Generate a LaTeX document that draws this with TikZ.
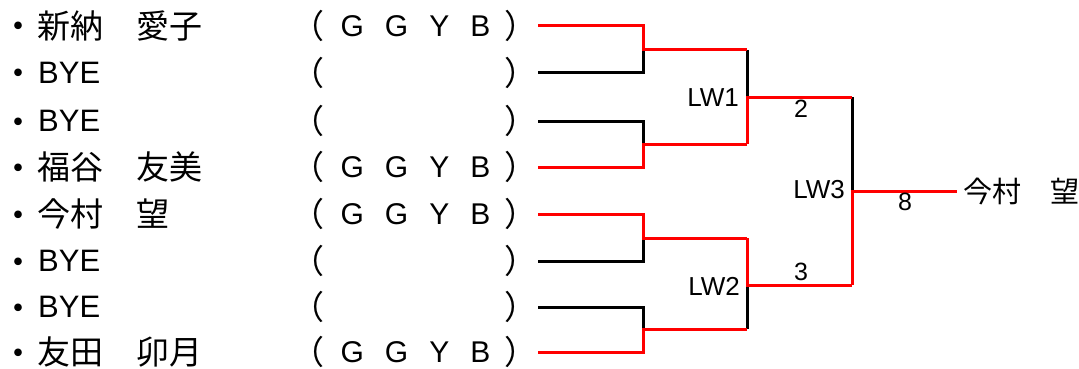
\documentclass[tikz,border=0pt]{standalone}
\usepackage{fontspec}
\setmainfont{Liberation Sans}
\newfontfamily\jp{Noto Sans CJK JP}
\newcommand\gradegap{\hspace{21pt}}
\begin{document}
\begin{tikzpicture}[x=1pt, y=-1pt,
    win/.style={draw=red, line width=3pt},
    lose/.style={draw=black, line width=3pt},
    dot/.style={anchor=base, inner sep=0pt, font=\jp\fontsize{36}{36}\selectfont},
    player/.style={anchor=west, inner sep=0pt, font=\jp\fontsize{33}{33}\selectfont},
    bye/.style={anchor=west, inner sep=0pt, font=\fontsize{31}{31}\selectfont},
    paren/.style={inner sep=0pt, font=\jp\fontsize{33}{33}\selectfont},
    grade/.style={inner sep=0pt, font=\fontsize{30}{30}\selectfont},
    round/.style={anchor=east, inner sep=0pt, font=\fontsize{26}{26}\selectfont},
    score/.style={inner sep=0pt, font=\fontsize{25}{25}\selectfont}]
\useasboundingbox (0,0) rectangle (1079,369);

% entries
\node [dot] (b1) at (18, 40) {・};
\node [dot] (b2) at (18, 87) {・};
\node [dot] (b3) at (18, 135) {・};
\node [dot] (b4) at (18, 181) {・};
\node [dot] (b5) at (18, 228) {・};
\node [dot] (b6) at (18, 275) {・};
\node [dot] (b7) at (18, 321) {・};
\node [dot] (b8) at (18, 366) {・};

\node [player] (n1) at (37, 26) {新納　愛子};
\node [bye] (n2) at (38, 73) {BYE};
\node [bye] (n3) at (38, 121) {BYE};
\node [player] (n4) at (37, 167) {福谷　友美};
\node [player] (n5) at (37, 214) {今村　望};
\node [bye] (n6) at (38, 261) {BYE};
\node [bye] (n7) at (38, 307) {BYE};
\node [player] (n8) at (37, 352) {友田　卯月};

\node [paren] (o1) at (307.5, 26) {（};
\node [paren] (o2) at (307.5, 73) {（};
\node [paren] (o3) at (307.5, 121) {（};
\node [paren] (o4) at (307.5, 167) {（};
\node [paren] (o5) at (307.5, 214) {（};
\node [paren] (o6) at (307.5, 261) {（};
\node [paren] (o7) at (307.5, 307) {（};
\node [paren] (o8) at (307.5, 352) {（};

\node [grade] (g1) at (415.5, 26) {G\gradegap G\gradegap Y\gradegap B};
\node [grade] (g4) at (415.5, 167) {G\gradegap G\gradegap Y\gradegap B};
\node [grade] (g5) at (415.5, 214) {G\gradegap G\gradegap Y\gradegap B};
\node [grade] (g8) at (415.5, 352) {G\gradegap G\gradegap Y\gradegap B};

\node [paren] (c1) at (520.5, 26) {）};
\node [paren] (c2) at (520.5, 73) {）};
\node [paren] (c3) at (520.5, 121) {）};
\node [paren] (c4) at (520.5, 167) {）};
\node [paren] (c5) at (520.5, 214) {）};
\node [paren] (c6) at (520.5, 261) {）};
\node [paren] (c7) at (520.5, 307) {）};
\node [paren] (c8) at (520.5, 352) {）};

% bracket points
\coordinate (s1) at (538, 26);   \coordinate (e1) at (643, 26);
\coordinate (s2) at (538, 73);   \coordinate (e2) at (643, 73);
\coordinate (s3) at (538, 121);  \coordinate (e3) at (643, 121);
\coordinate (s4) at (538, 167);  \coordinate (e4) at (643, 167);
\coordinate (s5) at (538, 214);  \coordinate (e5) at (643, 214);
\coordinate (s6) at (538, 261);  \coordinate (e6) at (643, 261);
\coordinate (s7) at (538, 307);  \coordinate (e7) at (643, 307);
\coordinate (s8) at (538, 352);  \coordinate (e8) at (643, 352);

\coordinate (q1) at (643, 50);
\coordinate (q2) at (643, 144);
\coordinate (q3) at (643, 238);
\coordinate (q4) at (643, 329);

\coordinate (a1) at (747, 50);
\coordinate (a2) at (747, 144);
\coordinate (a3) at (747, 97);

\coordinate (d1) at (747, 238);
\coordinate (d2) at (747, 329);
\coordinate (d3) at (747, 285);

\coordinate (f1) at (852, 97);
\coordinate (f2) at (852, 285);
\coordinate (f3) at (852, 191);

\node [anchor=west, inner xsep=6pt, inner ysep=0pt, font=\jp\fontsize{29}{29}\selectfont] (w) at (957, 191) {今村　望};

% losing sides
\draw [lose] (s2) -- (e2) -- (q1);
\draw [lose] (s3) -- (e3) -- (q2);
\draw [lose] (s6) -- (e6) -- (q3);
\draw [lose] (s7) -- (e7) -- (q4);
\draw [lose] (a1) -- (a3);
\draw [lose] (d2) -- (d3);
\draw [lose] (f1) -- (f3);

% winning sides
\draw [win] (s1) -- (e1) -- (q1) -- (a1);
\draw [win] (s4) -- (e4) -- (q2) -- (a2);
\draw [win] (s5) -- (e5) -- (q3) -- (d1);
\draw [win] (s8) -- (e8) -- (q4) -- (d2);
\draw [win] (a2) -- (a3) -- (f1);
\draw [win] (d1) -- (d3) -- (f2);
\draw [win] (f2) -- (f3) -- (w.west);

\node [round] (lw1) at (739, 98) {LW1};
\node [round] (lw2) at (740, 286) {LW2};
\node [round] (lw3) at (845, 190) {LW3};

\node [score] (p2) at (801, 109) {2};
\node [score] (p3) at (801, 272) {3};
\node [score] (p8) at (905, 202) {8};
\end{tikzpicture}
\end{document}
